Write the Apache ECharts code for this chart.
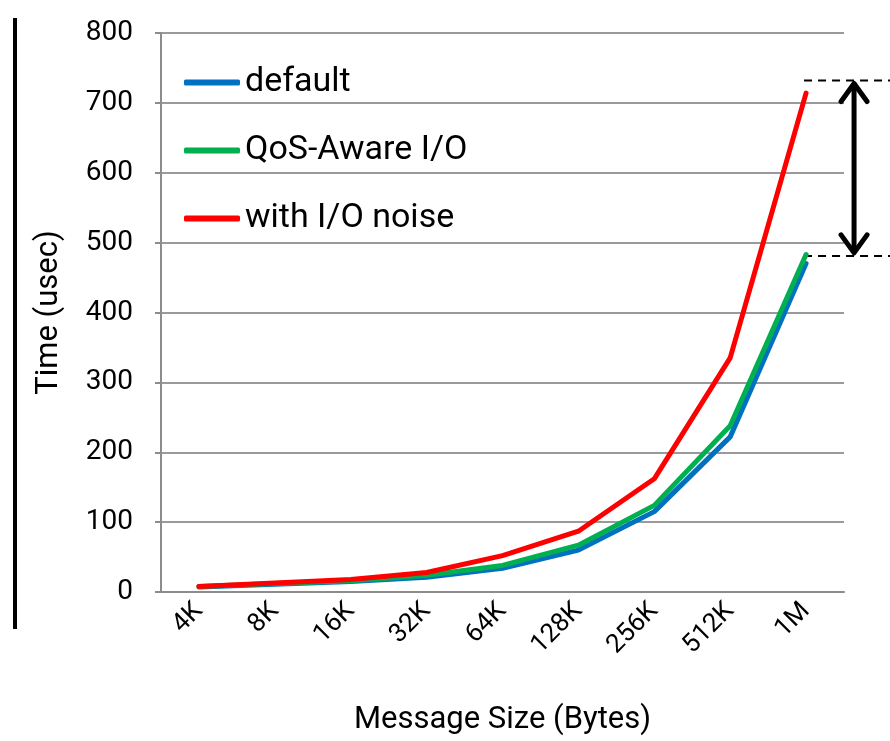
<!DOCTYPE html>
<html>
<head>
<meta charset="utf-8">
<script src="https://cdn.jsdelivr.net/npm/echarts@6/dist/echarts.min.js"></script>
<style>
  html, body { margin: 0; padding: 0; background: #fff; }
  #chart { width: 890px; height: 741px; }
</style>
</head>
<body>
<div id="chart"></div>
<script>
// message sizes
var sizes = ['4K', '8K', '16K', '32K', '64K', '128K', '256K', '512K', '1M'];
// time in usec
var defaultTimes = [7, 11, 15, 21, 34, 60, 115, 222, 470];
var qosTimes = [8, 12, 16, 24, 38, 67, 124, 238, 483];
var noiseTimes = [8, 13, 18, 28, 52, 87, 162, 335, 714];
var yTicks = [0, 100, 200, 300, 400, 500, 600, 700, 800];
// gap marker (dashed lines + arrow) levels
var gapTop = 732;
var gapBottom = 481;

var font = 'Roboto';
var myChart = echarts.init(document.getElementById('chart'));

var option = {
    animation: false,
    grid: { left: 161, right: 46, top: 33, bottom: 149 },
    legend: {
        orient: 'vertical',
        left: 179,
        top: 58,
        itemWidth: 56,
        itemHeight: 6,
        itemGap: 29,
        icon: 'roundRect',
        textStyle: { fontFamily: font, fontSize: 34, color: '#000', lineHeight: 39 },
        data: ['default', 'QoS-Aware I/O', 'with I/O noise']
    },
    xAxis: {
        type: 'category',
        data: sizes,
        name: 'Message Size (Bytes)',
        nameLocation: 'middle',
        nameGap: 113,
        nameTextStyle: { fontFamily: font, fontSize: 31, color: '#000' },
        axisLine: { lineStyle: { color: '#8c8c8c', width: 2 } },
        axisTick: { show: false },
        axisLabel: { rotate: 45, margin: 15, fontFamily: font, fontSize: 26, color: '#000' }
    },
    yAxis: {
        type: 'value',
        min: 0,
        max: 800,
        interval: 100,
        name: 'Time (usec)',
        nameLocation: 'middle',
        nameGap: 96,
        nameTextStyle: { fontFamily: font, fontSize: 31, color: '#000' },
        axisLine: { show: true, lineStyle: { color: '#8c8c8c', width: 2 } },
        axisTick: { show: true, length: 6, lineStyle: { color: '#8c8c8c', width: 2 } },
        axisLabel: {
            margin: 28, fontFamily: font, fontSize: 28, color: '#000',
            formatter: function (v) { return yTicks.indexOf(v) >= 0 ? String(v) : ''; }
        },
        splitLine: { lineStyle: { color: '#9a9a9a', width: 2 } }
    },
    series: [{
        name: 'default',
        type: 'line',
        data: defaultTimes,
        showSymbol: false,
        color: '#0070C0',
        lineStyle: { width: 5, cap: 'round', join: 'round' }
    }, {
        name: 'QoS-Aware I/O',
        type: 'line',
        data: qosTimes,
        showSymbol: false,
        color: '#00B050',
        lineStyle: { width: 5, cap: 'round', join: 'round' }
    }, {
        name: 'with I/O noise',
        type: 'line',
        data: noiseTimes,
        showSymbol: false,
        color: '#FF0000',
        lineStyle: { width: 5, cap: 'round', join: 'round' }
    }]
};
myChart.setOption(option);

// annotations: left bar, dashed guides and double arrow
var pTop = myChart.convertToPixel({ seriesIndex: 0 }, [sizes.length - 1, gapTop]);
var pBot = myChart.convertToPixel({ seriesIndex: 0 }, [sizes.length - 1, gapBottom]);
var ax = pTop[0] + 48;
var head = 13;
myChart.setOption({
    graphic: [
        { type: 'line', shape: { x1: 15, y1: 18, x2: 15, y2: 629 }, style: { stroke: '#000', lineWidth: 4 } },
        { type: 'line', shape: { x1: pTop[0] - 2, y1: pTop[1], x2: 890, y2: pTop[1] }, style: { stroke: '#000', lineWidth: 2, lineDash: [8, 6] } },
        { type: 'line', shape: { x1: pBot[0] - 2, y1: pBot[1], x2: 890, y2: pBot[1] }, style: { stroke: '#000', lineWidth: 2, lineDash: [8, 6] } },
        { type: 'line', shape: { x1: ax, y1: pTop[1] + 3, x2: ax, y2: pBot[1] - 3 }, style: { stroke: '#000', lineWidth: 5 } },
        { type: 'polyline', shape: { points: [[ax - head, pTop[1] + head + 8], [ax, pTop[1] + 3], [ax + head, pTop[1] + head + 8]] }, style: { stroke: '#000', lineWidth: 5, fill: null, lineCap: 'round', lineJoin: 'round' } },
        { type: 'polyline', shape: { points: [[ax - head, pBot[1] - head - 8], [ax, pBot[1] - 3], [ax + head, pBot[1] - head - 8]] }, style: { stroke: '#000', lineWidth: 5, fill: null, lineCap: 'round', lineJoin: 'round' } }
    ]
});
</script>
</body>
</html>
